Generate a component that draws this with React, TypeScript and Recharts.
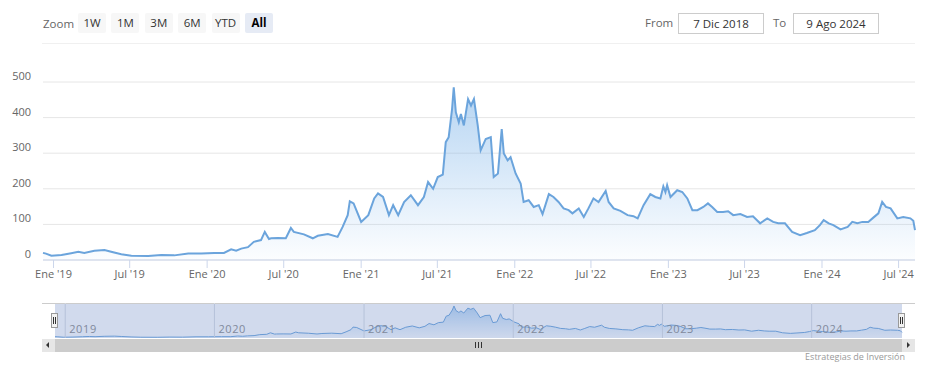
import React from 'react';
import { AreaChart, Area, XAxis, YAxis, CartesianGrid, ReferenceLine } from 'recharts';

const dates = [
  '2018-12-07','2018-12-14','2018-12-27','2019-01-20','2019-02-12','2019-03-01','2019-03-15','2019-04-08','2019-05-02','2019-05-18',
  '2019-06-11','2019-07-05','2019-08-14','2019-09-14','2019-10-15','2019-11-17','2019-12-18','2020-01-18','2020-02-10','2020-02-27',
  '2020-03-10','2020-03-22','2020-04-07','2020-04-21','2020-05-08','2020-05-17','2020-05-27','2020-06-01','2020-06-17','2020-07-06',
  '2020-07-18','2020-07-25','2020-08-18','2020-09-08','2020-09-20','2020-10-14','2020-11-06','2020-11-18','2020-11-30','2020-12-05',
  '2020-12-14','2021-01-01','2021-01-18','2021-02-01','2021-02-10','2021-02-22','2021-03-08','2021-03-18','2021-03-30','2021-04-13',
  '2021-04-29','2021-05-16','2021-05-30','2021-06-09','2021-06-21','2021-07-02','2021-07-14','2021-07-21','2021-07-28','2021-08-05',
  '2021-08-09','2021-08-14','2021-08-21','2021-08-26','2021-09-02','2021-09-12','2021-09-19','2021-09-26','2021-10-05','2021-10-12',
  '2021-10-24','2021-11-05','2021-11-12','2021-11-22','2021-12-01','2021-12-06','2021-12-15','2021-12-22','2022-01-03','2022-01-15',
  '2022-01-22','2022-02-03','2022-02-15','2022-02-27','2022-03-08','2022-03-23','2022-04-03','2022-04-15','2022-04-27','2022-05-09',
  '2022-05-18','2022-06-02','2022-06-14','2022-06-25','2022-07-07','2022-07-19','2022-08-05','2022-08-12','2022-08-24','2022-09-09',
  '2022-09-26','2022-10-10','2022-10-20','2022-11-03','2022-11-19','2022-12-01','2022-12-13','2022-12-20','2022-12-25','2022-12-29',
  '2023-01-06','2023-01-22','2023-02-03','2023-02-15','2023-02-27','2023-03-11','2023-03-25','2023-04-05','2023-04-15','2023-04-27',
  '2023-05-11','2023-05-23','2023-06-04','2023-06-21','2023-07-07','2023-07-21','2023-08-07','2023-08-24','2023-09-07','2023-09-19',
  '2023-10-05','2023-10-22','2023-11-10','2023-11-26','2023-12-15','2023-12-27','2024-01-05','2024-01-17','2024-01-28','2024-02-14',
  '2024-03-02','2024-03-13','2024-03-25','2024-04-06','2024-04-20','2024-05-02','2024-05-14','2024-05-23','2024-06-01','2024-06-12',
  '2024-06-28','2024-07-12','2024-07-29','2024-08-05','2024-08-09',
];

const values = [
  20, 18, 12, 14, 19, 23, 20, 26, 28, 23,
  16, 12, 11, 14, 13, 18, 18, 20, 20, 30,
  26, 32, 36, 51, 56, 79, 59, 61, 62, 61,
  90, 79, 72, 61, 68, 73, 65, 93, 126, 165,
  159, 107, 126, 173, 187, 177, 126, 154, 126, 163,
  182, 154, 177, 219, 200, 233, 240, 331, 345, 424,
  485, 415, 387, 410, 378, 452, 434, 452, 378, 308,
  340, 345, 233, 243, 368, 299, 280, 289, 243, 215,
  163, 168, 149, 154, 129, 185, 177, 163, 145, 140,
  131, 145, 121, 145, 173, 163, 194, 163, 145, 138,
  126, 123, 117, 154, 185, 177, 173, 207, 191, 210,
  177, 196, 191, 173, 140, 140, 149, 159, 149, 135,
  135, 137, 126, 129, 121, 123, 103, 117, 107, 103,
  103, 79, 70, 76, 84, 98, 112, 103, 98, 86,
  93, 107, 103, 107, 107, 119, 131, 163, 149, 145,
  117, 121, 117, 110, 84,
];

const xTickDates = [
  '2019-01-01','2019-07-01','2020-01-01','2020-07-01','2021-01-01','2021-07-01',
  '2022-01-01','2022-07-01','2023-01-01','2023-07-01','2024-01-01','2024-07-01',
];
const xTickLabels = [
  "Ene '19","Jul '19","Ene '20","Jul '20","Ene '21","Jul '21",
  "Ene '22","Jul '22","Ene '23","Jul '23","Ene '24","Jul '24",
];
const yTicks = [0, 100, 200, 300, 400, 500];
const navYearDates = ['2019-01-01','2020-01-01','2021-01-01','2022-01-01','2023-01-01','2024-01-01'];
const navYearLabels = ['2019','2020','2021','2022','2023','2024'];
const zoomButtons = ['1W','1M','3M','6M','YTD','All'];
const selectedButton = 'All';
const fromLabel = 'From';
const toLabel = 'To';
const fromDate = '7 Dic 2018';
const toDate = '9 Ago 2024';
const zoomLabel = 'Zoom';
const creditText = 'Estrategias de Inversión';

const data = dates.map((d, i) => ({ t: Date.parse(d), v: values[i] }));
const xTicks = xTickDates.map((d) => Date.parse(d));
const navTicks = navYearDates.map((d) => Date.parse(d));

const FONT = "'Open Sans', 'Noto Sans', sans-serif";
const LINE = '#6ba4dc';

const XTick = (props: any) => {
  const { x, payload } = props;
  const idx = xTicks.indexOf(payload.value);
  return (
    <text x={x} y={278} textAnchor="middle" fontSize={11} fill="#666" fontFamily={FONT}>
      {idx >= 0 ? xTickLabels[idx] : ''}
    </text>
  );
};

const YTick = (props: any) => {
  const { y, payload } = props;
  return (
    <text x={31} y={y - 2} textAnchor="end" fontSize={11} fill="#666" fontFamily={FONT}>
      {payload.value}
    </text>
  );
};

const YearLabel = (label: string) => (props: any) => {
  const vb = props.viewBox || {};
  return (
    <text x={vb.x + 4} y={30} fontSize={11} fill="#8c8c8c" fontFamily={FONT} letterSpacing={0.6}>
      {label}
    </text>
  );
};

const abs = (s: React.CSSProperties): React.CSSProperties => ({ position: 'absolute', ...s });

export default function App() {
  return (
    <div style={abs({ left: 0, top: 0, width: 926, height: 384, background: '#fff', fontFamily: FONT, overflow: 'hidden' })}>
      {/* range selector */}
      <div style={abs({ left: 43, top: 15, fontSize: 11.5, color: '#666', lineHeight: '18px' })}>{zoomLabel}</div>
      {zoomButtons.map((b, i) => {
        const sel = b === selectedButton;
        return (
          <div
            key={b}
            style={abs({
              left: 78 + i * 33.4,
              top: 13,
              width: 28,
              height: 20,
              lineHeight: '20px',
              textAlign: 'center',
              fontSize: 11.5,
              background: sel ? '#e6ebf5' : '#f7f7f7',
              color: sel ? '#000' : '#333',
              fontWeight: sel ? 700 : 400,
              borderRadius: 2,
            })}
          >
            {b}
          </div>
        );
      })}
      <div style={abs({ left: 645, top: 14, fontSize: 11.5, color: '#666', lineHeight: '18px' })}>{fromLabel}</div>
      <div style={abs({ left: 678, top: 13, width: 84, height: 19, border: '1px solid #cccccc', fontSize: 11.5, color: '#333', lineHeight: '19px', textAlign: 'center' })}>{fromDate}</div>
      <div style={abs({ left: 773, top: 14, fontSize: 11.5, color: '#666', lineHeight: '18px' })}>{toLabel}</div>
      <div style={abs({ left: 793, top: 13, width: 84, height: 19, border: '1px solid #cccccc', fontSize: 11.5, color: '#333', lineHeight: '19px', textAlign: 'center' })}>{toDate}</div>
      <div style={abs({ left: 42, top: 43, width: 873, height: 1, background: '#f0f0f0' })} />

      {/* main chart */}
      <div style={abs({ left: 0, top: 0 })}>
        <AreaChart width={926} height={290} data={data} margin={{ top: 82, right: 11, bottom: 1, left: 0 }}>
          <defs>
            <linearGradient id="mainFill" x1="0" y1="0" x2="0" y2="1">
              <stop offset="0" stopColor="#76afe6" stopOpacity={0.9} />
              <stop offset="1" stopColor="#7cb5ec" stopOpacity={0.04} />
            </linearGradient>
          </defs>
          <CartesianGrid horizontal vertical={false} stroke="#e6e6e6" />
          <XAxis
            dataKey="t"
            type="number"
            scale="time"
            domain={['dataMin', 'dataMax']}
            ticks={xTicks}
            interval={0}
            height={29}
            tickSize={8}
            axisLine={{ stroke: '#ccd6eb' }}
            tickLine={{ stroke: '#ccd6eb' }}
            tick={<XTick />}
          />
          <YAxis domain={[0, 500]} ticks={yTicks} interval={0} width={43} axisLine={false} tickLine={false} tick={<YTick />} />
          <Area type="linear" dataKey="v" stroke={LINE} strokeWidth={2} fill="url(#mainFill)" isAnimationActive={false} dot={false} activeDot={false} />
        </AreaChart>
      </div>

      {/* navigator */}
      <div style={abs({ left: 42, top: 303, width: 873, height: 1, background: '#cccccc' })} />
      <div style={abs({ left: 0, top: 303 })}>
        <AreaChart width={926} height={35} data={data} margin={{ top: 0, right: 24, bottom: 0, left: 55 }}>
          <defs>
            <linearGradient id="navFill" x1="0" y1="0" x2="0" y2="1">
              <stop offset="0" stopColor="#76afe6" stopOpacity={0.9} />
              <stop offset="1" stopColor="#7cb5ec" stopOpacity={0.05} />
            </linearGradient>
          </defs>
          <XAxis dataKey="t" type="number" scale="time" domain={['dataMin', 'dataMax']} hide />
          <YAxis domain={[0, 530]} hide />
          {navTicks.map((t, i) => (
            <ReferenceLine key={t} x={t} stroke="#d8dce3" ifOverflow="visible" label={YearLabel(navYearLabels[i])} />
          ))}
          <Area type="linear" dataKey="v" stroke={LINE} strokeWidth={1} fill="url(#navFill)" isAnimationActive={false} dot={false} activeDot={false} />
        </AreaChart>
      </div>
      <div style={abs({ left: 55, top: 304, width: 847, height: 34, background: 'rgba(102,133,194,0.3)' })} />
      {[51, 898].map((l) => (
        <div key={l} style={abs({ left: l, top: 313, width: 5, height: 13, background: '#f2f2f2', border: '1px solid #999' })}>
          <div style={abs({ left: 1, top: 3, width: 1, height: 7, background: '#333' })} />
          <div style={abs({ left: 3, top: 3, width: 1, height: 7, background: '#333' })} />
        </div>
      ))}

      {/* scrollbar */}
      <div style={abs({ left: 42, top: 339, width: 873, height: 13, background: '#f2f2f2' })} />
      <div style={abs({ left: 55, top: 339, width: 847, height: 13, background: '#cccccc' })} />
      <div style={abs({ left: 42, top: 339, width: 13, height: 13, background: '#e6e6e6' })}>
        <div style={abs({ left: 4, top: 3, width: 0, height: 0, borderTop: '3px solid transparent', borderBottom: '3px solid transparent', borderRight: '3px solid #333' })} />
      </div>
      <div style={abs({ left: 902, top: 339, width: 13, height: 13, background: '#e6e6e6' })}>
        <div style={abs({ left: 5, top: 3, width: 0, height: 0, borderTop: '3px solid transparent', borderBottom: '3px solid transparent', borderLeft: '3px solid #333' })} />
      </div>
      {[475, 478, 481].map((l) => (
        <div key={l} style={abs({ left: l, top: 342, width: 1, height: 6, background: '#333' })} />
      ))}

      {/* credit */}
      <div style={abs({ left: 705, top: 351, width: 200, textAlign: 'right', fontSize: 9, color: '#999', lineHeight: '12px' })}>{creditText}</div>
    </div>
  );
}
